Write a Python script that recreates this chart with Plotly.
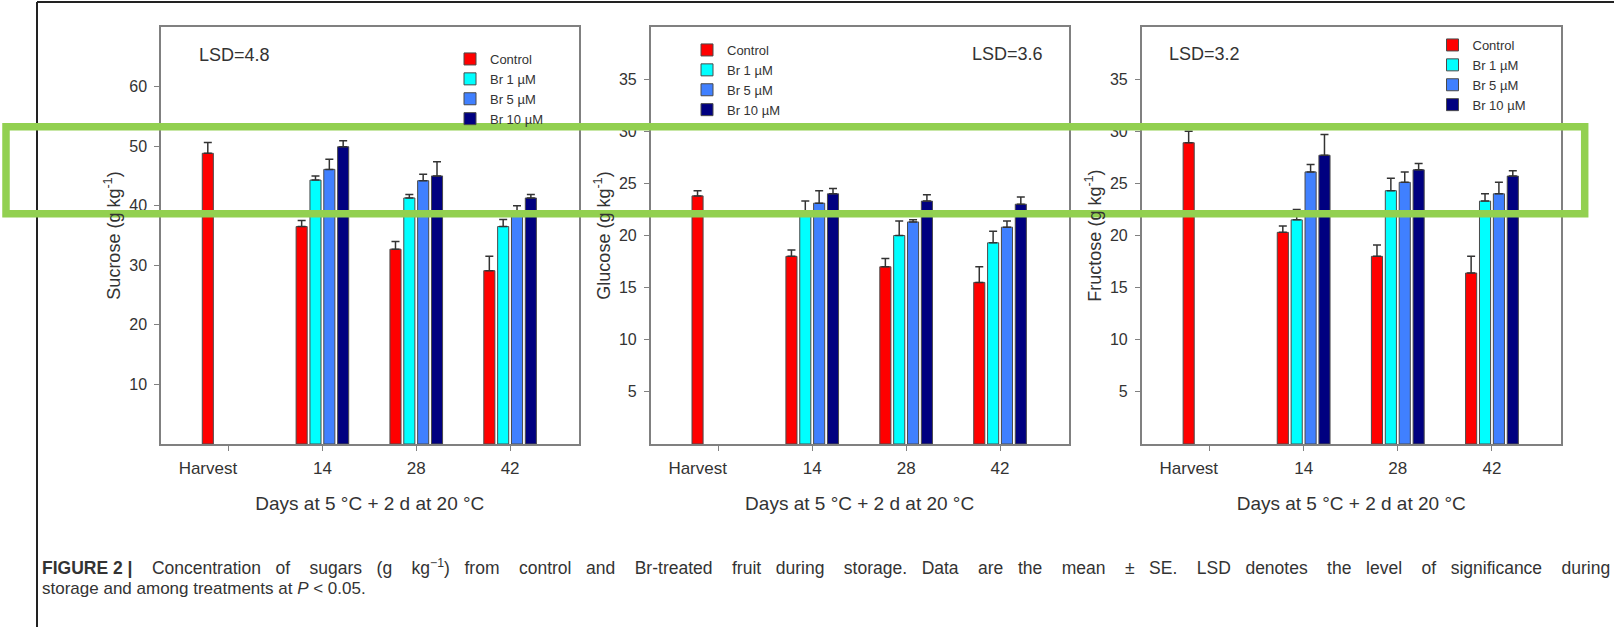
import plotly.graph_objects as go

# ---------------- data ----------------
CATEGORIES = ["Harvest", "14", "28", "42"]
CAT_POS = [0, 1, 2, 3]
SERIES = ["Control", "Br 1 µM", "Br 5 µM", "Br 10 µM"]
COLORS = ["#FF0000", "#00FFFF", "#4080FF", "#000080"]

# Sucrose (g kg-1)
SUC_CONTROL = [48.8, 36.5, 32.7, 29.1]
SUC_BR1 = [None, 44.3, 41.3, 36.5]
SUC_BR5 = [None, 46.1, 44.2, 39.0]
SUC_BR10 = [None, 49.9, 45.0, 41.3]
SUC_CONTROL_SE = [1.8, 1.0, 1.3, 2.4]
SUC_BR1_SE = [None, 0.7, 0.6, 1.2]
SUC_BR5_SE = [None, 1.7, 1.1, 1.0]
SUC_BR10_SE = [None, 1.0, 2.4, 0.6]

# Glucose (g kg-1)
GLU_CONTROL = [23.8, 18.0, 17.0, 15.5]
GLU_BR1 = [None, 22.0, 20.0, 19.3]
GLU_BR5 = [None, 23.1, 21.3, 20.8]
GLU_BR10 = [None, 24.0, 23.3, 23.0]
GLU_CONTROL_SE = [0.5, 0.6, 0.8, 1.5]
GLU_BR1_SE = [None, 1.3, 1.4, 1.1]
GLU_BR5_SE = [None, 1.2, 0.2, 0.6]
GLU_BR10_SE = [None, 0.5, 0.6, 0.7]

# Fructose (g kg-1)
FRU_CONTROL = [28.9, 20.3, 18.0, 16.4]
FRU_BR1 = [None, 21.5, 24.3, 23.3]
FRU_BR5 = [None, 26.1, 25.1, 24.0]
FRU_BR10 = [None, 27.7, 26.3, 25.7]
FRU_CONTROL_SE = [1.1, 0.6, 1.1, 1.6]
FRU_BR1_SE = [None, 1.0, 1.2, 0.7]
FRU_BR5_SE = [None, 0.7, 1.0, 1.1]
FRU_BR10_SE = [None, 2.0, 0.6, 0.5]

Y_TITLES = ["Sucrose (g kg<sup>-1</sup>)", "Glucose (g kg<sup>-1</sup>)", "Fructose (g kg<sup>-1</sup>)"]
Y_RANGES = [[0, 70], [0, 40], [0, 40]]
Y_TICKS = [[10, 20, 30, 40, 50, 60], [5, 10, 15, 20, 25, 30, 35], [5, 10, 15, 20, 25, 30, 35]]
LSD_LABELS = ["LSD=4.8", "LSD=3.6", "LSD=3.2"]
X_TITLE = "Days at 5 °C + 2 d at 20 °C"

CAPTION_1_WORDS = ["<b>FIGURE 2 |</b>", "Concentration", "of", "sugars",
                   "(g", "kg<sup>\u22121</sup>)", "from", "control", "and", "Br-treated",
                   "fruit", "during", "storage.", "Data", "are", "the", "mean", "\u00b1",
                   "SE.", "LSD", "denotes", "the", "level", "of", "significance", "during"]
CAPTION_2 = "storage and among treatments at <i>P</i> &lt; 0.05."

PANELS = [
    ([SUC_CONTROL, SUC_BR1, SUC_BR5, SUC_BR10], [SUC_CONTROL_SE, SUC_BR1_SE, SUC_BR5_SE, SUC_BR10_SE]),
    ([GLU_CONTROL, GLU_BR1, GLU_BR5, GLU_BR10], [GLU_CONTROL_SE, GLU_BR1_SE, GLU_BR5_SE, GLU_BR10_SE]),
    ([FRU_CONTROL, FRU_BR1, FRU_BR5, FRU_BR10], [FRU_CONTROL_SE, FRU_BR1_SE, FRU_BR5_SE, FRU_BR10_SE]),
]

# ---------------- layout geometry (pixels) ----------------
W, H = 1614, 627
X_DOMAINS_PX = [(161, 578.6), (650.7, 1068.6), (1141.7, 1560.7)]
Y_TOP_PX, Y_BOT_PX = 27, 444
LEGEND_POS_PX = [(450, 44), (687, 35), (1432.5, 30)]
LSD_POS_PX = [(197, 55), (970, 54), (1167, 54)]

FONT = "Liberation Sans, Arial, sans-serif"
TXT = "#333333"
AXCOL = "#808080"


def px_x(v):
    return v / W


def px_y(v):
    return 1 - v / H


def justify(words, extra_spaces):
    """Join words, spreading extra (non-breaking) spaces evenly over the gaps."""
    gaps = len(words) - 1
    out = words[0]
    prev = 0
    for i in range(1, len(words)):
        target = round(extra_spaces * i / gaps)
        out += " " + "\u00a0" * (target - prev) + words[i]
        prev = target
    return out


fig = go.Figure()
legend_names = ["legend", "legend2", "legend3"]

for p, (means, ses) in enumerate(PANELS):
    xa = "x" if p == 0 else f"x{p + 1}"
    ya = "y" if p == 0 else f"y{p + 1}"
    for s, name in enumerate(SERIES):
        fig.add_trace(go.Bar(
            x=CAT_POS, y=means[s], name=name,
            xaxis=xa, yaxis=ya,
            marker=dict(color=COLORS[s], line=dict(color="#4a4a4a", width=1)),
            error_y=dict(type="data", array=ses[s], arrayminus=[0] * len(ses[s]),
                         symmetric=False, color="#333333", thickness=1.5, width=4),
            legend=legend_names[p], showlegend=True,
        ))

layout = dict(
    width=W, height=H,
    margin=dict(l=0, r=0, t=0, b=0),
    paper_bgcolor="white", plot_bgcolor="white",
    barmode="group", bargap=0.41, bargroupgap=0.2,
    font=dict(family=FONT, color=TXT),
    showlegend=True,
)

for p in range(3):
    sfx = "" if p == 0 else str(p + 1)
    x0, x1 = X_DOMAINS_PX[p]
    layout["xaxis" + sfx] = dict(
        domain=[px_x(x0), px_x(x1)],
        anchor="y" + sfx,
        range=[-0.72, 3.73],
        tickmode="array",
        tickvals=[-0.22, 1, 2, 3],
        ticktext=CATEGORIES,
        ticks="outside", ticklen=5, tickcolor="rgba(0,0,0,0)",
        minor=dict(tickmode="array", tickvals=CAT_POS, ticks="outside", ticklen=5,
                   tickcolor=AXCOL, tickwidth=1.2),
        ticklabelstandoff=3,
        tickfont=dict(size=17, color=TXT),
        showline=True, linecolor=AXCOL, linewidth=1.5, mirror=True,
        showgrid=False, zeroline=False,
        title=dict(text=X_TITLE, font=dict(size=19, color=TXT), standoff=20),
    )
    layout["yaxis" + sfx] = dict(
        domain=[px_y(Y_BOT_PX), px_y(Y_TOP_PX)],
        anchor="x" + sfx,
        range=Y_RANGES[p],
        tickmode="array", tickvals=Y_TICKS[p],
        ticks="outside", ticklen=5, tickcolor=AXCOL, tickwidth=1.2,
        ticklabelstandoff=4,
        tickfont=dict(size=16, color=TXT),
        showline=True, linecolor=AXCOL, linewidth=1.5, mirror=True,
        showgrid=False, zeroline=False,
        title=dict(text=Y_TITLES[p], font=dict(size=18, color=TXT), standoff=4),
    )
    lx, ly = LEGEND_POS_PX[p]
    layout[legend_names[p]] = dict(
        x=px_x(lx), y=px_y(ly), xanchor="left", yanchor="top",
        bgcolor="rgba(0,0,0,0)", font=dict(size=13, color=TXT),
        tracegroupgap=0, traceorder="normal",
    )

annotations = []
for p in range(3):
    ax_, ay_ = LSD_POS_PX[p]
    annotations.append(dict(
        text=LSD_LABELS[p], xref="paper", yref="paper", x=px_x(ax_), y=px_y(ay_),
        xanchor="left", yanchor="middle", showarrow=False,
        font=dict(size=18, color=TXT, family=FONT),
    ))

annotations.append(dict(text=justify(CAPTION_1_WORDS, 64), xref="paper", yref="paper",
                        x=px_x(40), y=px_y(567), xanchor="left", yanchor="middle",
                        showarrow=False, font=dict(size=17.5, color=TXT, family=FONT)))
annotations.append(dict(text=CAPTION_2, xref="paper", yref="paper", x=px_x(40), y=px_y(588),
                        xanchor="left", yanchor="middle", showarrow=False,
                        font=dict(size=17, color=TXT, family=FONT)))
layout["annotations"] = annotations

layout["shapes"] = [
    # outer figure frame (left and top edges)
    dict(type="line", xref="paper", yref="paper", x0=px_x(37), x1=px_x(37), y0=px_y(2), y1=0,
         line=dict(color="#222222", width=2)),
    dict(type="line", xref="paper", yref="paper", x0=px_x(37), x1=1, y0=px_y(2), y1=px_y(2),
         line=dict(color="#222222", width=2)),
    # green highlight rectangle
    dict(type="rect", xref="paper", yref="paper", x0=px_x(6), x1=px_x(1584.7),
         y0=px_y(213.8), y1=px_y(126.7), line=dict(color="#92D050", width=7.5),
         fillcolor="rgba(0,0,0,0)", layer="above"),
]

fig.update_layout(**layout)
fig.write_html("out.html", config={"displayModeBar": False},
               post_script="document.body.style.margin='0px';document.body.style.overflow='hidden';")
